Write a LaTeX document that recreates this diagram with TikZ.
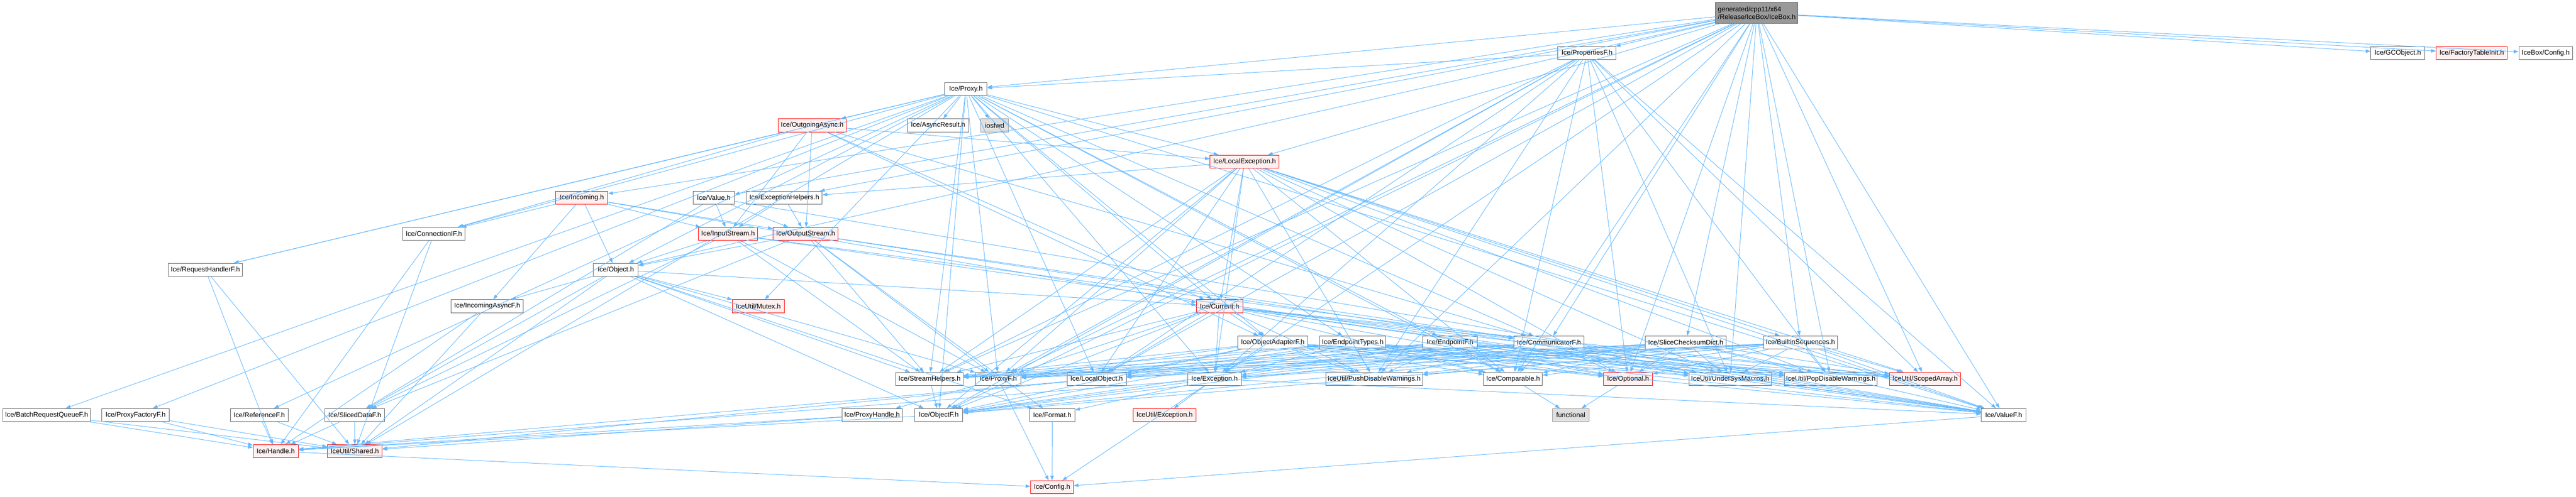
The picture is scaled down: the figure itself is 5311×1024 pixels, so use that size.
\documentclass[tikz,border=0pt]{standalone}
\usepackage{fontspec}
\setmainfont{Liberation Sans}
\usetikzlibrary{arrows.meta}
\definecolor{edgeblue}{HTML}{63B8FF}
\definecolor{boxgray}{HTML}{666666}
\definecolor{topfill}{HTML}{999999}
\definecolor{topdraw}{HTML}{666666}
\definecolor{sysfill}{HTML}{E0E0E0}
\definecolor{trunc}{HTML}{FF0000}
\definecolor{truncfill}{HTML}{FFF0F0}
\begin{document}
\begin{tikzpicture}[x=1pt, y=-1pt,
  hdr/.style={rectangle, draw=boxgray, fill=white, line width=1pt, minimum height=27pt, inner xsep=3pt, font=\fontsize{14}{16}\selectfont},
  cut/.style={hdr, draw=trunc, fill=truncfill},
  sys/.style={hdr, draw=topfill, fill=sysfill},
  dep/.style={draw=edgeblue, line width=1pt, -{Triangle[length=10pt,width=7pt]}}]
\useasboundingbox (0,0) rectangle (5311,1024);
% rows of headers
\node[hdr, fill=topfill, draw=topdraw, minimum width=170pt, minimum height=43pt, align=left] (ibx) at (3622,26.5){generated/cpp11/x64\\/Release/IceBox/IceBox.h};
\node[hdr, minimum width=120pt] (prpf) at (3272,109.5){Ice/PropertiesF.h};
\node[hdr, minimum width=111pt] (gco) at (4943.5,109.5){Ice/GCObject.h};
\node[cut, minimum width=146pt] (fti) at (5096,109.5){Ice/FactoryTableInit.h};
\node[hdr, minimum width=111pt] (ibcfg) at (5248.5,109.5){IceBox/Config.h};
\node[hdr, minimum width=87pt] (prx) at (1991.5,184){Ice/Proxy.h};
\node[cut, minimum width=141pt] (oasync) at (1674.5,258.5){Ice/OutgoingAsync.h};
\node[hdr, minimum width=126pt] (ares) at (1934,258.5){Ice/AsyncResult.h};
\node[sys, minimum width=57pt] (iosfwd) at (2050.5,258.5){iosfwd};
\node[cut, minimum width=142pt] (lexc) at (2566,333.5){Ice/LocalException.h};
\node[cut, minimum width=107pt] (inc) at (1199.5,408){Ice/Incoming.h};
\node[hdr, minimum width=85pt] (val) at (1471.5,408){Ice/Value.h};
\node[hdr, minimum width=156pt] (exh) at (1617,408){Ice/ExceptionHelpers.h};
\node[hdr, minimum width=129pt] (conf) at (894.5,482.5){Ice/ConnectionIF.h};
\node[cut, minimum width=122pt] (istr) at (1501,482.5){Ice/InputStream.h};
\node[cut, minimum width=134pt] (ostr) at (1661,482.5){Ice/OutputStream.h};
\node[hdr, minimum width=153pt] (rhf) at (423.5,556.5){Ice/RequestHandlerF.h};
\node[hdr, minimum width=93pt] (obj) at (1269.5,556.5){Ice/Object.h};
\node[hdr, minimum width=149pt] (iaf) at (1004.5,631.5){Ice/IncomingAsyncF.h};
\node[cut, minimum width=107pt] (mtx) at (1563.5,631.5){IceUtil/Mutex.h};
\node[cut, minimum width=95pt] (cur) at (2514.5,631.5){Ice/Current.h};
\node[hdr, minimum width=144pt] (oaf) at (2624,706.5){Ice/ObjectAdapterF.h};
\node[hdr, minimum width=136pt] (ept) at (2789,706.5){Ice/EndpointTypes.h};
\node[hdr, minimum width=113pt] (epf) at (2989.5,706.5){Ice/EndpointF.h};
\node[hdr, minimum width=145pt] (comf) at (3193.5,706.5){Ice/CommunicatorF.h};
\node[hdr, minimum width=167pt] (scd) at (3475.5,706.5){Ice/SliceChecksumDict.h};
\node[hdr, minimum width=152pt] (bseq) at (3712,706.5){Ice/BuiltinSequences.h};
\node[hdr, minimum width=139pt] (sth) at (1916.5,781.5){Ice/StreamHelpers.h};
\node[hdr, minimum width=94pt] (prxf) at (2058,781.5){Ice/ProxyF.h};
\node[hdr, minimum width=122pt] (lobj) at (2261,781.5){Ice/LocalObject.h};
\node[hdr, minimum width=110pt] (exc) at (2504,781.5){Ice/Exception.h};
\node[hdr, minimum width=200pt] (pushw) at (2833,781.5){IceUtil/PushDisableWarnings.h};
\node[hdr, minimum width=121pt] (cmp) at (3119.5,781.5){Ice/Comparable.h};
\node[cut, minimum width=101pt] (opt) at (3356.5,781.5){Ice/Optional.h};
\node[hdr, minimum width=170pt] (undef) at (3567,781.5){IceUtil/UndefSysMacros.h};
\node[hdr, minimum width=191pt] (popw) at (3774.5,781.5){IceUtil/PopDisableWarnings.h};
\node[cut, minimum width=146pt] (sarr) at (3969,781.5){IceUtil/ScopedArray.h};
\node[hdr, minimum width=180pt] (brqf) at (96,856){Ice/BatchRequestQueueF.h};
\node[hdr, minimum width=139pt] (pfac) at (279.5,856){Ice/ProxyFactoryF.h};
\node[hdr, minimum width=119pt] (reff) at (534.5,856){Ice/ReferenceF.h};
\node[hdr, minimum width=123pt] (sdf) at (731.5,856){Ice/SlicedDataF.h};
\node[hdr, minimum width=124pt] (phdl) at (1798,856){Ice/ProxyHandle.h};
\node[hdr, minimum width=99pt] (objf) at (1935.5,856){Ice/ObjectF.h};
\node[hdr, minimum width=93pt] (fmt) at (2169.5,856){Ice/Format.h};
\node[cut, minimum width=130pt] (uexc) at (2401,856){IceUtil/Exception.h};
\node[sys, minimum width=75pt] (func) at (3238.5,856){functional};
\node[hdr, minimum width=92pt] (valf) at (4131,856){Ice/ValueF.h};
\node[cut, minimum width=93pt] (hdl) at (568.5,930.5){Ice/Handle.h};
\node[cut, minimum width=113pt] (shr) at (731.5,930.5){IceUtil/Shared.h};
\node[cut, minimum width=88pt] (cfg) at (2169,1005){Ice/Config.h};
% IceBox.h
\draw[dep] (ibx) -- (prpf);
\draw[dep] (ibx) -- (gco);
\draw[dep] (ibx) -- (fti);
\draw[dep] (ibx) -- (ibcfg);
\draw[dep] (ibx) -- (prx);
\draw[dep] (ibx) -- (lexc);
\draw[dep] (ibx) -- (inc);
\draw[dep] (ibx) -- (val);
\draw[dep] (ibx) -- (exh);
\draw[dep] (ibx) -- (obj);
\draw[dep] (ibx) -- (sth);
\draw[dep] (ibx) -- (prxf);
\draw[dep] (ibx) -- (objf);
\draw[dep] (ibx) -- (valf);
\draw[dep] (ibx) -- (exc);
\draw[dep] (ibx) -- (lobj);
\draw[dep] (ibx) -- (cmp);
\draw[dep] (ibx) -- (pushw);
\draw[dep] (ibx) -- (popw);
\draw[dep] (ibx) -- (undef);
\draw[dep] (ibx) -- (sarr);
\draw[dep] (ibx) -- (opt);
\draw[dep] (ibx) -- (bseq);
\draw[dep] (ibx) -- (scd);
\draw[dep] (ibx) -- (comf);
% PropertiesF.h
\draw[dep] (prpf) -- (prx);
\draw[dep] (prpf) -- (pushw);
\draw[dep] (prpf) -- (prxf);
\draw[dep] (prpf) -- (objf);
\draw[dep] (prpf) -- (valf);
\draw[dep] (prpf) -- (exc);
\draw[dep] (prpf) -- (lobj);
\draw[dep] (prpf) -- (sth);
\draw[dep] (prpf) -- (cmp);
\draw[dep] (prpf) -- (sarr);
\draw[dep] (prpf) -- (opt);
\draw[dep] (prpf) -- (undef);
\draw[dep] (prpf) -- (popw);
% Proxy.h
\draw[dep] (prx) -- (oasync);
\draw[dep] (prx) -- (ares);
\draw[dep] (prx) -- (iosfwd);
\draw[dep] (prx) -- (lexc);
\draw[dep] (prx) -- (conf);
\draw[dep] (prx) -- (rhf);
\draw[dep] (prx) -- (obj);
\draw[dep] (prx) -- (cur);
\draw[dep] (prx) -- (oaf);
\draw[dep] (prx) -- (ept);
\draw[dep] (prx) -- (epf);
\draw[dep] (prx) -- (comf);
\draw[dep] (prx) -- (prxf);
\draw[dep] (prx) -- (pfac);
\draw[dep] (prx) -- (reff);
\draw[dep] (prx) -- (brqf);
\draw[dep] (prx) -- (shr);
\draw[dep] (prx) -- (mtx);
\draw[dep] (prx) -- (exc);
\draw[dep] (prx) -- (lobj);
\draw[dep] (prx) -- (sth);
\draw[dep] (prx) -- (objf);
\draw[dep] (prx) -- (valf);
\draw[dep] (prx) -- (cmp);
% OutgoingAsync.h
\draw[dep] (oasync) -- (lexc);
\draw[dep] (oasync) -- (istr);
\draw[dep] (oasync) -- (ostr);
\draw[dep] (oasync) -- (conf);
\draw[dep] (oasync) -- (rhf);
\draw[dep] (oasync) -- (cur);
\draw[dep] (oasync) -- (oaf);
\draw[dep] (oasync) -- (comf);
% LocalException.h
\draw[dep] (lexc) -- (exh);
\draw[dep] (lexc) -- (cur);
\draw[dep] (lexc) -- (pushw);
\draw[dep] (lexc) -- (prxf);
\draw[dep] (lexc) -- (objf);
\draw[dep] (lexc) -- (valf);
\draw[dep] (lexc) -- (exc);
\draw[dep] (lexc) -- (lobj);
\draw[dep] (lexc) -- (sth);
\draw[dep] (lexc) -- (cmp);
\draw[dep] (lexc) -- (sarr);
\draw[dep] (lexc) -- (opt);
\draw[dep] (lexc) -- (undef);
\draw[dep] (lexc) -- (popw);
\draw[dep] (lexc) -- (bseq);
% Incoming.h, Value.h, ExceptionHelpers.h
\draw[dep] (inc) -- (conf);
\draw[dep] (inc) -- (istr);
\draw[dep] (inc) -- (ostr);
\draw[dep] (inc) -- (obj);
\draw[dep] (inc) -- (iaf);
\draw[dep] (inc) -- (cur);
\draw[dep] (val) -- (istr);
\draw[dep] (val) -- (ostr);
\draw[dep] (val) -- (valf);
\draw[dep] (val) -- (sdf);
\draw[dep] (exh) -- (istr);
\draw[dep] (exh) -- (ostr);
% ConnectionIF.h, streams
\draw[dep] (conf) -- (shr);
\draw[dep] (conf) -- (hdl);
\draw[dep] (istr) -- (obj);
\draw[dep] (istr) -- (comf);
\draw[dep] (istr) -- (valf);
\draw[dep] (istr) -- (prxf);
\draw[dep] (istr) -- (sdf);
\draw[dep] (istr) -- (sth);
\draw[dep] (ostr) -- (obj);
\draw[dep] (ostr) -- (comf);
\draw[dep] (ostr) -- (valf);
\draw[dep] (ostr) -- (prxf);
\draw[dep] (ostr) -- (sdf);
\draw[dep] (ostr) -- (sth);
\draw[dep] (ostr) -- (fmt);
% RequestHandlerF.h, Object.h, IncomingAsyncF.h
\draw[dep] (rhf) -- (shr);
\draw[dep] (rhf) -- (hdl);
\draw[dep] (obj) -- (objf);
\draw[dep] (obj) -- (prxf);
\draw[dep] (obj) -- (iaf);
\draw[dep] (obj) -- (cur);
\draw[dep] (obj) -- (fmt);
\draw[dep] (obj) -- (sdf);
\draw[dep] (obj) -- (mtx);
\draw[dep] (obj) -- (sth);
\draw[dep] (obj) -- (shr);
\draw[dep] (iaf) -- (shr);
\draw[dep] (iaf) -- (hdl);
% Current.h
\draw[dep] (cur) -- (oaf);
\draw[dep] (cur) -- (comf);
\draw[dep] (cur) -- (pushw);
\draw[dep] (cur) -- (prxf);
\draw[dep] (cur) -- (objf);
\draw[dep] (cur) -- (valf);
\draw[dep] (cur) -- (exc);
\draw[dep] (cur) -- (lobj);
\draw[dep] (cur) -- (sth);
\draw[dep] (cur) -- (cmp);
\draw[dep] (cur) -- (sarr);
\draw[dep] (cur) -- (opt);
\draw[dep] (cur) -- (undef);
\draw[dep] (cur) -- (popw);
% ObjectAdapterF.h
\draw[dep] (oaf) -- (pushw);
\draw[dep] (oaf) -- (prxf);
\draw[dep] (oaf) -- (objf);
\draw[dep] (oaf) -- (valf);
\draw[dep] (oaf) -- (exc);
\draw[dep] (oaf) -- (lobj);
\draw[dep] (oaf) -- (sth);
\draw[dep] (oaf) -- (cmp);
\draw[dep] (oaf) -- (sarr);
\draw[dep] (oaf) -- (opt);
\draw[dep] (oaf) -- (undef);
\draw[dep] (oaf) -- (popw);
% EndpointTypes.h
\draw[dep] (ept) -- (pushw);
\draw[dep] (ept) -- (prxf);
\draw[dep] (ept) -- (objf);
\draw[dep] (ept) -- (valf);
\draw[dep] (ept) -- (exc);
\draw[dep] (ept) -- (lobj);
\draw[dep] (ept) -- (sth);
\draw[dep] (ept) -- (cmp);
\draw[dep] (ept) -- (sarr);
\draw[dep] (ept) -- (opt);
\draw[dep] (ept) -- (undef);
\draw[dep] (ept) -- (popw);
% EndpointF.h
\draw[dep] (epf) -- (pushw);
\draw[dep] (epf) -- (prxf);
\draw[dep] (epf) -- (objf);
\draw[dep] (epf) -- (valf);
\draw[dep] (epf) -- (exc);
\draw[dep] (epf) -- (lobj);
\draw[dep] (epf) -- (sth);
\draw[dep] (epf) -- (cmp);
\draw[dep] (epf) -- (sarr);
\draw[dep] (epf) -- (opt);
\draw[dep] (epf) -- (undef);
\draw[dep] (epf) -- (popw);
% CommunicatorF.h
\draw[dep] (comf) -- (pushw);
\draw[dep] (comf) -- (prxf);
\draw[dep] (comf) -- (objf);
\draw[dep] (comf) -- (valf);
\draw[dep] (comf) -- (exc);
\draw[dep] (comf) -- (lobj);
\draw[dep] (comf) -- (sth);
\draw[dep] (comf) -- (cmp);
\draw[dep] (comf) -- (sarr);
\draw[dep] (comf) -- (opt);
\draw[dep] (comf) -- (undef);
\draw[dep] (comf) -- (popw);
% SliceChecksumDict.h
\draw[dep] (scd) -- (pushw);
\draw[dep] (scd) -- (prxf);
\draw[dep] (scd) -- (objf);
\draw[dep] (scd) -- (valf);
\draw[dep] (scd) -- (exc);
\draw[dep] (scd) -- (lobj);
\draw[dep] (scd) -- (sth);
\draw[dep] (scd) -- (cmp);
\draw[dep] (scd) -- (sarr);
\draw[dep] (scd) -- (opt);
\draw[dep] (scd) -- (undef);
\draw[dep] (scd) -- (popw);
% BuiltinSequences.h
\draw[dep] (bseq) -- (pushw);
\draw[dep] (bseq) -- (prxf);
\draw[dep] (bseq) -- (objf);
\draw[dep] (bseq) -- (valf);
\draw[dep] (bseq) -- (exc);
\draw[dep] (bseq) -- (lobj);
\draw[dep] (bseq) -- (sth);
\draw[dep] (bseq) -- (cmp);
\draw[dep] (bseq) -- (sarr);
\draw[dep] (bseq) -- (opt);
\draw[dep] (bseq) -- (undef);
\draw[dep] (bseq) -- (popw);
% lower rows
\draw[dep] (sth) -- (objf);
\draw[dep] (prxf) -- (cfg);
\draw[dep] (prxf) -- (phdl);
\draw[dep] (lobj) -- (shr);
\draw[dep] (lobj) -- (hdl);
\draw[dep] (exc) -- (uexc);
\draw[dep] (exc) -- (fmt);
\draw[dep] (exc) -- (objf);
\draw[dep] (exc) -- (valf);
\draw[dep] (exc) -- (cfg);
\draw[dep] (exc) -- (hdl);
\draw[dep] (cmp) -- (func);
\draw[dep] (opt) -- (func);
\draw[dep] (objf) -- (hdl);
\draw[dep] (phdl) -- (hdl);
\draw[dep] (phdl) -- (shr);
\draw[dep] (fmt) -- (cfg);
\draw[dep] (valf) -- (cfg);
\draw[dep] (hdl) -- (cfg);
\draw[dep] (brqf) -- (hdl);
\draw[dep] (brqf) -- (shr);
\draw[dep] (pfac) -- (hdl);
\draw[dep] (pfac) -- (shr);
\draw[dep] (reff) -- (hdl);
\draw[dep] (reff) -- (shr);
\draw[dep] (sdf) -- (hdl);
\draw[dep] (sdf) -- (shr);
\end{tikzpicture}
\end{document}
